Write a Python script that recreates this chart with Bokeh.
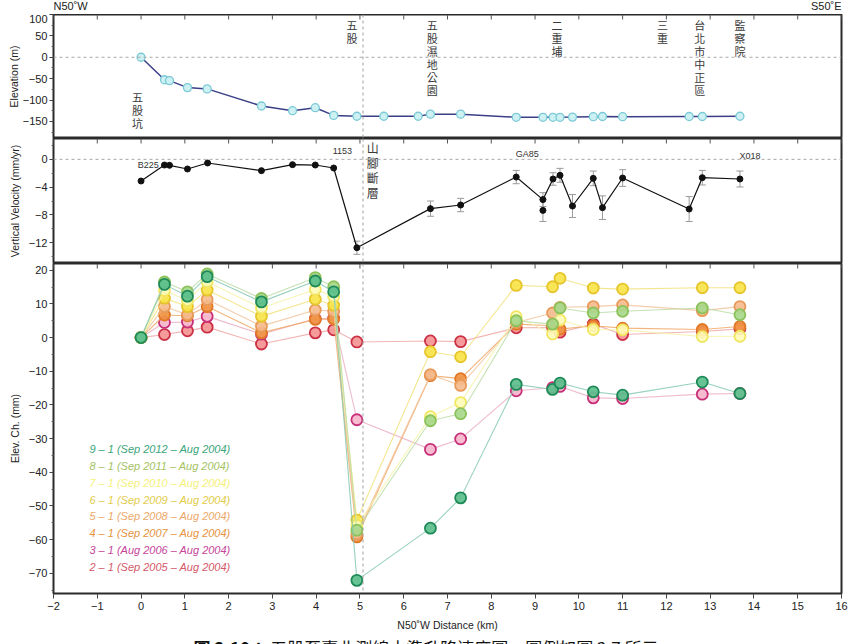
from bokeh.plotting import figure
from bokeh.layouts import column
from bokeh.models import (Range1d, FixedTicker, Span, ColumnDataSource, Whisker,
                          TeeHead)
from bokeh.core.properties import value
from bokeh.embed import file_html
from bokeh.resources import INLINE

# ---------------- data ----------------
# ground elevation of the levelling benchmarks along the N50W line
elev_km = [0, 0.535, 0.65, 1.06, 1.51, 2.75, 3.46, 3.98, 4.40, 4.93, 5.545, 6.33,
           6.61, 7.30, 8.57, 9.18, 9.41, 9.57, 9.855, 10.33, 10.54, 11.0, 12.52,
           12.82, 13.68]
elev_m = [0, -52.6, -54.6, -71, -74, -114, -125, -118, -136, -138, -138, -138,
          -133, -133, -140.5, -140.5, -140.5, -140.5, -140, -139, -138.5, -139,
          -138.5, -138.5, -138]

# vertical velocity (mm/yr) with 1-sigma error
vel_km = [0, 0.535, 0.65, 1.06, 1.52, 2.75, 3.46, 3.98, 4.40, 4.93, 6.61, 7.30,
          8.57, 9.18, 9.41, 9.57, 9.855, 10.33, 10.54, 11.0, 12.52, 12.82, 13.68]
vel_mm = [-3.12, -0.82, -0.86, -1.39, -0.53, -1.63, -0.77, -0.82, -1.25, -12.73,
          -7.1, -6.58, -2.55, -5.8, -2.83, -2.3, -6.72, -2.74, -6.96, -2.69,
          -7.16, -2.64, -2.83]
vel_err = [0, 0, 0, 0, 0, 0, 0, 0, 0, 0.95, 1.1, 0.96, 0.96, 1.0, 0.9, 1.0, 1.65,
           1.05, 1.7, 1.2, 1.8, 1.05, 1.15]
# a second benchmark at the same distance
vel2_km = [9.18]
vel2_mm = [-7.35]
vel2_err = [1.6]

bench_names = ["B225", "1153", "GA85", "X018"]
bench_km = [0.535, 4.93, 8.57, 13.68]

place_names = ["五股坑", "五股", "五股濕地公園", "二重埔", "三重", "台北市中正區", "監察院"]
place_km = [-0.08, 4.82, 6.65, 9.5, 11.91, 12.76, 13.68]

fault_name = "山腳斷層"
fault_km = 5.07

# cumulative elevation change (mm) relative to the Aug 2004 survey
chg_km = [0, 0.535, 1.06, 1.51, 2.75, 3.98, 4.40, 4.93, 6.61, 7.30, 8.57, 9.40,
          9.57, 10.33, 11.0, 12.82, 13.68]
chg_9_1 = [0, 15.8, 12.3, 18.1, 10.6, 16.8, 13.6, -72.1, -56.6, -47.6, -13.9,
           -15.4, -13.5, -16.1, -17.1, -13.2, -16.6]
chg_8_1 = [0, 16.5, 13.6, 18.9, 11.6, 17.8, 15.1, -57.2, -24.7, -22.6, 5.0, 4.0,
           8.8, 7.3, 7.8, 8.8, 6.8]
chg_7_1 = [0, 14.0, 11.0, 16.6, 8.8, 14.3, 12.2, -55.8, -23.5, -19.3, 6.2, 1.1,
           5.2, 2.4, 2.3, 0.3, 0.4]
chg_6_1 = [0, 11.7, 9.2, 14.1, 6.3, 11.4, 9.6, -54.2, -4.2, -5.7, 15.5, 15.1,
           17.6, 14.7, 14.4, 14.8, 14.8]
chg_5_1 = [0, 9.2, 6.8, 11.3, 3.4, 8.2, 7.8, -58.3, -11.0, -14.2, 4.5, 7.3, 9.0,
           9.2, 9.7, 8.0, 9.2]
chg_4_1 = [0, 6.7, 6.5, 9.2, 1.4, 5.4, 5.5, -59.2, -11.3, -12.2, 4.0, 3.5, 2.5,
           3.5, 2.8, 2.4, 3.3]
chg_3_1 = [0, 4.5, 4.6, 6.3, 1.0, 5.6, 5.7, -24.4, -33.2, -30.1, -15.8, -14.9,
           -14.5, -17.9, -18.1, -16.8, -16.6]
chg_2_1 = [0, 0.9, 2.0, 3.1, -1.9, 1.4, 2.3, -1.3, -1.0, -1.2, 2.9, 3.0, 1.6,
           4.0, 0.9, 1.8, 2.6]

series_labels = ["9 – 1 (Sep 2012 – Aug 2004)", "8 – 1 (Sep 2011 – Aug 2004)",
                 "7 – 1 (Sep 2010 – Aug 2004)", "6 – 1 (Sep 2009 – Aug 2004)",
                 "5 – 1 (Sep 2008 – Aug 2004)", "4 – 1 (Sep 2007 – Aug 2004)",
                 "3 – 1 (Aug 2006 – Aug 2004)", "2 – 1 (Sep 2005 – Aug 2004)"]
series_values = [chg_9_1, chg_8_1, chg_7_1, chg_6_1, chg_5_1, chg_4_1, chg_3_1, chg_2_1]

# styles: (fill, edge, line, legend text)
series_styles = [
    ("#5cbf8c", "#1e8a58", "#86c9b0", "#3aa57a"),
    ("#a8d88c", "#8cc25a", "#bcdca6", "#a5c263"),
    ("#fffbb8", "#f0e660", "#f6f2a8", "#f4f07a"),
    ("#f8e44a", "#e6c52c", "#f2e27c", "#e2cc48"),
    ("#f5bc8e", "#e89a5a", "#f2c49c", "#eca868"),
    ("#f09242", "#e07826", "#f0a868", "#e6923e"),
    ("#f6b6cc", "#c8307a", "#eab0c6", "#c6449a"),
    ("#f49494", "#cc3044", "#f0a8a8", "#d45868"),
]

caption_head = "圖 2.10："
caption_body = "五股至臺北測線水準升降速度圖，圖例如圖 2.7 所示。"

FONT = "Liberation Sans"
CJK = "Noto Sans CJK TC"
X0, X1 = -2, 16
XR = Range1d(X0, X1)
KM_TICKS = list(range(X0, X1 + 1))


def make_fig(height, y0, y1, ticks, minor, bottom, x_axis=False):
    p = figure(width=856, height=height, x_range=XR,
               y_range=Range1d(y0, y1), output_backend="svg",
               toolbar_location=None,
               x_axis_location="below" if x_axis else None,
               min_border_left=53, min_border_right=15,
               min_border_top=0, min_border_bottom=bottom)
    p.xgrid.visible = False
    p.ygrid.visible = False
    p.outline_line_color = "#2a2a2a"
    p.outline_line_width = 2
    p.border_fill_color = "white"

    ya = p.left[0]
    ya.ticker = FixedTicker(ticks=ticks, minor_ticks=minor)
    ya.axis_line_color = None
    ya.major_tick_out = 4
    ya.major_tick_in = 0
    ya.minor_tick_out = 2
    ya.minor_tick_in = 0
    ya.major_tick_line_color = "#444"
    ya.minor_tick_line_color = "#666"
    ya.major_label_text_font = FONT
    ya.major_label_text_font_size = "11px"
    ya.major_label_text_color = "#222"
    ya.major_label_standoff = 2
    ya.axis_label_text_font = FONT
    ya.axis_label_text_font_size = "10.5px"
    ya.axis_label_text_font_style = "normal"
    ya.axis_label_text_color = "#222"

    # short inward ticks hanging from the top edge at every kilometre
    frame_h = height - bottom
    tick_len = 5 * (y1 - y0) / frame_h
    p.segment(x0=KM_TICKS, x1=KM_TICKS, y0=[y1] * len(KM_TICKS),
              y1=[y1 - tick_len] * len(KM_TICKS), line_color="#555", line_width=1)
    p.add_layout(Span(location=fault_km, dimension="height", line_color="#a0a0a0",
                      line_dash="3 3", line_width=1))
    return p


def strip_fig(height):
    p = figure(width=856, height=height, x_range=XR, y_range=Range1d(0, 1),
               output_backend="svg", toolbar_location=None,
               x_axis_location=None, y_axis_location=None,
               min_border_left=53, min_border_right=15,
               min_border_top=0, min_border_bottom=0)
    p.xgrid.visible = False
    p.ygrid.visible = False
    p.outline_line_color = None
    return p


def vertical_text(p, xs, tops, words, step, size):
    """Write each word top-to-bottom, one character per row."""
    cx, cy, ch = [], [], []
    for x, top, word in zip(xs, tops, words):
        for i, c in enumerate(word):
            cx.append(x)
            cy.append(top - i * step)
            ch.append(c)
    p.text(x=cx, y=cy, text=ch, text_font=value(CJK), text_font_size=size,
           text_color="#3a3a3a", text_align="center", text_baseline="middle")


# ---------------- header: profile direction ----------------
hdr = strip_fig(14)
hdr.text(x=[X0, X1], y=[0.18, 0.18], text=["N50˚W", "S50˚E"],
         text_font=value(FONT), text_font_size="11px", text_color="#222",
         text_align=["left", "right"], text_baseline="bottom")

# ---------------- elevation panel ----------------
p1 = make_fig(124, -190, 100, [100, 50, 0, -50, -100, -150],
              [75, 25, -25, -75, -125, -175], 0)
p1.left[0].axis_label = "Elevation (m)"
p1.left[0].axis_label_standoff = 0
p1.add_layout(Span(location=0, dimension="width", line_color="#a8a8a8",
                   line_dash="3 3", line_width=1))
p1.line(elev_km, elev_m, line_color="#3b3f86", line_width=1.5)
p1.scatter(elev_km, elev_m, size=8, fill_color="#cdf0f2", line_color="#79c9d6",
           line_width=1.3)

# place names: first row centre and row spacing (13 px) in metres
vertical_text(p1, place_km, [-93.4, 74.3, 74.3, 74.3, 74.3, 74.3, 74.3],
              place_names, 13 * 290 / 124, "11px")

# ---------------- velocity panel ----------------
p2 = make_fig(125, -15, 3, [0, -4, -8, -12], [2, -2, -6, -10, -14], 0)
p2.left[0].axis_label = "Vertical Velocity (mm/yr)"
p2.left[0].axis_label_standoff = 5
p2.add_layout(Span(location=0, dimension="width", line_color="#a8a8a8",
                   line_dash="3 3", line_width=1))

all_km = vel_km + vel2_km
all_v = vel_mm + vel2_mm
all_e = vel_err + vel2_err
err_view = ColumnDataSource(dict(
    x=[x for x, e in zip(all_km, all_e) if e > 0],
    lo=[v - e for v, e in zip(all_v, all_e) if e > 0],
    hi=[v + e for v, e in zip(all_v, all_e) if e > 0]))
p2.add_layout(Whisker(source=err_view, base="x", lower="lo", upper="hi",
                      line_color="#9a9a9a", line_width=1,
                      upper_head=TeeHead(size=7, line_color="#9a9a9a", line_width=1),
                      lower_head=TeeHead(size=7, line_color="#9a9a9a", line_width=1)))
p2.line(vel_km, vel_mm, line_color="#111", line_width=1.2)
p2.scatter(vel_km, vel_mm, size=6, fill_color="#111", line_color="#111")
p2.scatter(vel2_km, vel2_mm, size=6, fill_color="#111", line_color="#111")

bx = [bench_km[0] - 0.13, bench_km[1] - 0.11, bench_km[2] - 0.01, bench_km[3] - 0.01]
by = [-0.86, 1.15, 0.72, 0.48]
p2.text(x=bx, y=by, text=bench_names, text_font=value(FONT), text_font_size="9px",
        text_color="#333", text_align=["right", "right", "left", "left"],
        text_baseline="middle")
vertical_text(p2, [fault_km + 0.22], [1.7], [fault_name], 15 * 18 / 125, "12px")

# ---------------- elevation change panel ----------------
p3 = make_fig(370, -76, 22, list(range(20, -80, -10)),
              list(range(15, -80, -10)), 39, x_axis=True)
p3.left[0].axis_label = "Elev. Ch. (mm)"
p3.left[0].axis_label_standoff = 5
xa = p3.below[0]
xa.ticker = FixedTicker(ticks=KM_TICKS)
xa.axis_line_color = None
xa.major_tick_out = 5
xa.major_tick_in = 0
xa.minor_tick_out = 0
xa.minor_tick_in = 0
xa.major_tick_line_color = "#444"
xa.major_label_text_font = FONT
xa.major_label_text_font_size = "11px"
xa.major_label_text_color = "#222"
xa.major_label_standoff = 3
xa.axis_label = "N50˚W Distance (km)"
xa.axis_label_text_font = FONT
xa.axis_label_text_font_size = "10.5px"
xa.axis_label_text_font_style = "normal"
xa.axis_label_text_color = "#222"
xa.axis_label_standoff = 6

for vals, (fill, edge, line, _) in reversed(list(zip(series_values, series_styles))):
    p3.line(chg_km, vals, line_color=line, line_width=1.1, line_alpha=0.85)
    p3.scatter(chg_km, vals, size=11, fill_color=fill, line_color=edge,
               line_width=1.8, fill_alpha=0.92)

leg_y = [-33.1 - 5 * i for i in range(len(series_labels))]
p3.text(x=[-1.18] * len(series_labels), y=leg_y, text=series_labels,
        text_font=value(FONT), text_font_size="11px", text_font_style="italic",
        text_color=[s[3] for s in series_styles], text_baseline="middle")

# ---------------- caption (runs off the bottom of the page) ----------------
ftr = strip_fig(11)
ftr.text(x=[1.2], y=[1.0], text=[caption_head], text_font=value(CJK),
         text_font_size="17px", text_font_style="bold", text_color="#111",
         text_align="left", text_baseline="top")
ftr.text(x=[2.95], y=[1.0], text=[caption_body], text_font=value(CJK),
         text_font_size="17px", text_color="#111",
         text_align="left", text_baseline="top")

layout = column(hdr, p1, p2, p3, ftr, spacing=0)
open("out.html", "w").write(file_html(layout, INLINE))
